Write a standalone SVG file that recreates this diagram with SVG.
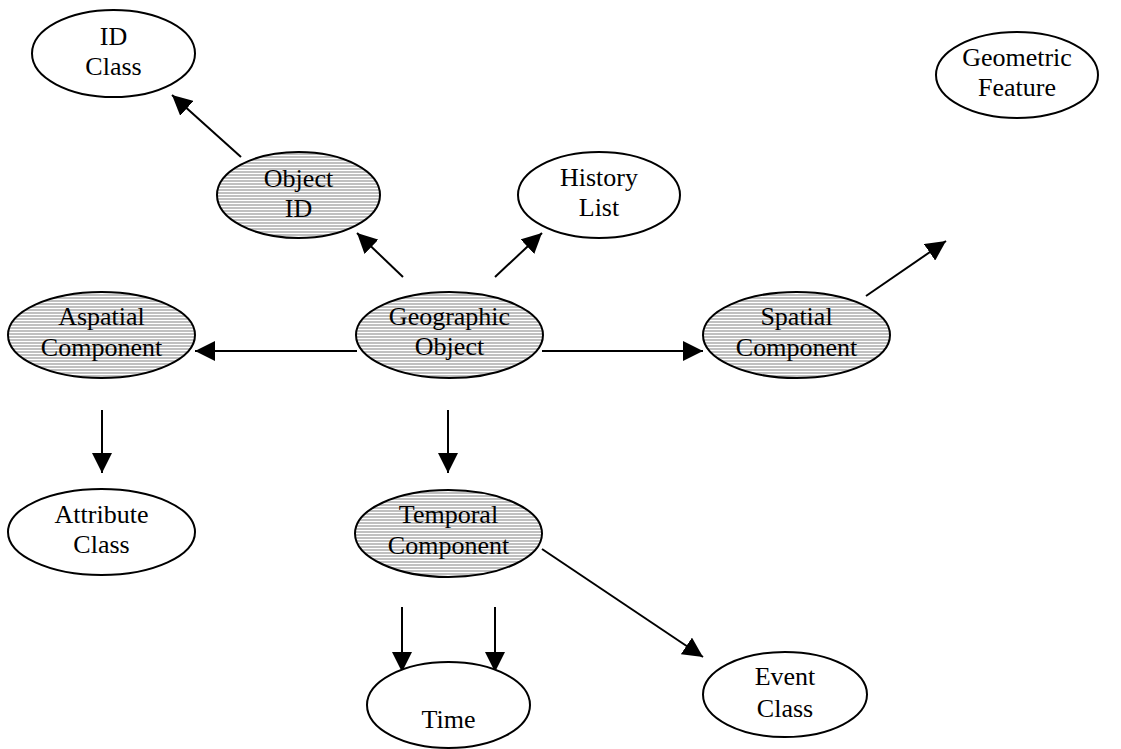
<svg xmlns="http://www.w3.org/2000/svg" width="1121" height="749" viewBox="0 0 1121 749">
<defs>
<pattern id="hatch" width="6" height="3" patternUnits="userSpaceOnUse">
<rect width="6" height="3" fill="#c0c0c0"/>
<rect y="2" width="6" height="1" fill="#ffffff"/>
</pattern>
<marker id="arr" viewBox="0 0 20 20" refX="20" refY="10" markerWidth="20" markerHeight="20" markerUnits="userSpaceOnUse" orient="auto">
<path d="M0,0 L20,10 L0,20 z" fill="#000"/>
</marker>
</defs>
<style>
.plain{fill:#fff;stroke:#000;stroke-width:2}
.shade{fill:url(#hatch);stroke:#000;stroke-width:2}
text{font-family:"Liberation Serif","Times New Roman",serif;font-size:26px;fill:#000;text-anchor:middle}
.con line{stroke:#000;stroke-width:2;marker-end:url(#arr)}
</style>
<rect width="1121" height="749" fill="#fff"/>
<g id="connectors" class="con">
<line x1="241" y1="157" x2="172" y2="95"/>
<line x1="403" y1="277" x2="357" y2="233"/>
<line x1="495" y1="277" x2="542" y2="233"/>
<line x1="357" y1="351" x2="195" y2="351"/>
<line x1="542" y1="351" x2="703" y2="351"/>
<line x1="866" y1="296" x2="946" y2="241"/>
<line x1="102" y1="410" x2="102" y2="473"/>
<line x1="448" y1="410" x2="448" y2="473"/>
<line x1="542" y1="549" x2="703" y2="657"/>
<line x1="402" y1="607" x2="402" y2="672"/>
<line x1="495" y1="607" x2="495" y2="672"/>
</g>
<g id="id-class">
<ellipse class="plain" cx="113.5" cy="53.5" rx="81.5" ry="43.5"/>
<text x="113.5" y="45">ID</text>
<text x="113.5" y="75">Class</text>
</g>
<g id="object-id">
<ellipse class="shade" cx="298.5" cy="195" rx="81.5" ry="43"/>
<text x="298.5" y="187">Object</text>
<text x="298.5" y="217">ID</text>
</g>
<g id="history-list">
<ellipse class="plain" cx="599" cy="195" rx="81" ry="43"/>
<text x="599" y="186">History</text>
<text x="599" y="216">List</text>
</g>
<g id="geometric-feature">
<ellipse class="plain" cx="1017" cy="75" rx="81" ry="43"/>
<text x="1017" y="66">Geometric</text>
<text x="1017" y="96">Feature</text>
</g>
<g id="aspatial-component">
<ellipse class="shade" cx="101.5" cy="335" rx="93.5" ry="43"/>
<text x="101.5" y="325">Aspatial</text>
<text x="101.5" y="356">Component</text>
</g>
<g id="geographic-object">
<ellipse class="shade" cx="449.5" cy="335" rx="93.5" ry="43"/>
<text x="449.5" y="325">Geographic</text>
<text x="449.5" y="355">Object</text>
</g>
<g id="spatial-component">
<ellipse class="shade" cx="796.5" cy="335" rx="93.5" ry="43"/>
<text x="796.5" y="325">Spatial</text>
<text x="796.5" y="356">Component</text>
</g>
<g id="attribute-class">
<ellipse class="plain" cx="101.5" cy="532" rx="93.5" ry="43"/>
<text x="101.5" y="523">Attribute</text>
<text x="101.5" y="553">Class</text>
</g>
<g id="temporal-component">
<ellipse class="shade" cx="448.5" cy="533.5" rx="93.5" ry="43.5"/>
<text x="448.5" y="523">Temporal</text>
<text x="448.5" y="554">Component</text>
</g>
<g id="time">
<ellipse class="plain" cx="448.5" cy="705" rx="81.5" ry="43"/>
<text x="448.5" y="728">Time</text>
</g>
<g id="event-class">
<ellipse class="plain" cx="785" cy="694.5" rx="82" ry="42.5"/>
<text x="785" y="685">Event</text>
<text x="785" y="717">Class</text>
</g>
</svg>
